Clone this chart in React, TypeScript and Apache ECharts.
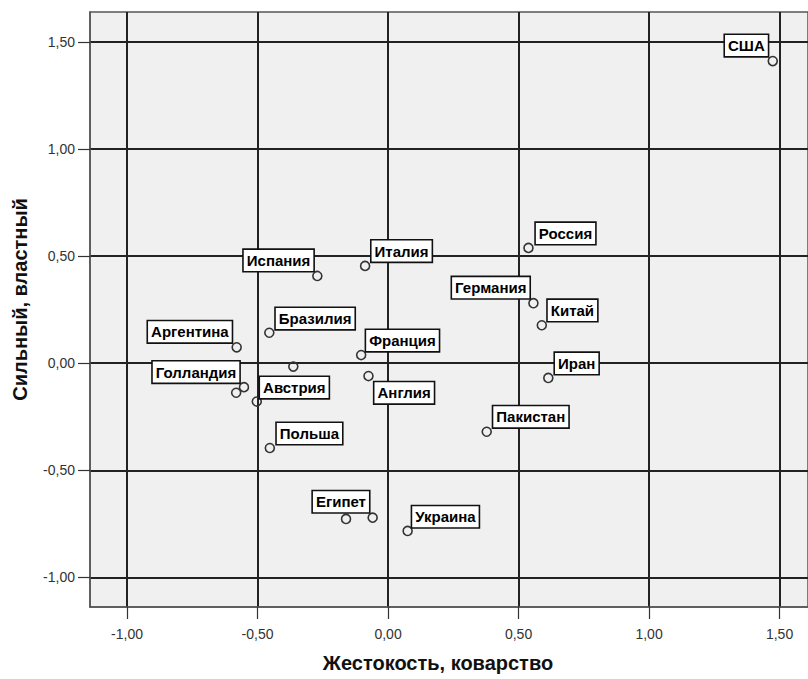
import React, { useEffect, useRef } from "react";
import * as echarts from "echarts";

const countries = [
  "США", "Испания", "Италия", "Бразилия", "Аргентина", "Франция", "", "Англия",
  "Голландия", "", "Австрия", "Польша", "Россия", "Германия", "Китай", "Иран",
  "Пакистан", "Египет", "", "Украина",
];
const cruelty = [
  1.474, -0.271, -0.088, -0.455, -0.58, -0.103, -0.363, -0.075,
  -0.552, -0.582, -0.503, -0.453, 0.538, 0.557, 0.589, 0.614,
  0.378, -0.059, -0.161, 0.075,
];
const power = [
  1.41, 0.407, 0.454, 0.142, 0.074, 0.038, -0.016, -0.06,
  -0.112, -0.138, -0.179, -0.396, 0.538, 0.28, 0.177, -0.069,
  -0.32, -0.721, -0.727, -0.783,
];
const tickValues = [-1, -0.5, 0, 0.5, 1, 1.5];
const xTitle = "Жестокость, коварство";
const yTitle = "Сильный, властный";

// label placement (style): [dx, dy, align, verticalAlign]
const placement: Record<string, [number, number, string, string]> = {
  "США": [-5, -5, "right", "bottom"],
  "Испания": [-4, -5, "right", "bottom"],
  "Италия": [6.5, -4.3, "left", "bottom"],
  "Бразилия": [6.5, -3.7, "left", "bottom"],
  "Аргентина": [-5, -5, "right", "bottom"],
  "Франция": [5, -4, "left", "bottom"],
  "Англия": [6, 6.3, "left", "top"],
  "Голландия": [-4.7, -4.6, "right", "bottom"],
  "Австрия": [3.3, -3.4, "left", "bottom"],
  "Польша": [7, -4, "left", "bottom"],
  "Россия": [7.4, -4, "left", "bottom"],
  "Германия": [-4, -5, "right", "bottom"],
  "Китай": [6, -4.3, "left", "bottom"],
  "Иран": [6.7, -4, "left", "bottom"],
  "Пакистан": [6.6, -4.4, "left", "bottom"],
  "Египет": [-3.7, -5.4, "right", "bottom"],
  "Украина": [4.6, -3.7, "left", "bottom"],
};

const fmt = (v: number) => v.toFixed(2).replace(".", ",");
const FONT = "'Liberation Sans', Arial, sans-serif";

export default function App() {
  const ref = useRef<HTMLDivElement>(null);
  useEffect(() => {
    if (!ref.current) return;
    const chart = echarts.init(ref.current, null, { renderer: "svg" });
    const data = countries.map((name, i) => {
      const p = placement[name];
      return {
        name,
        value: [cruelty[i], power[i]],
        label: p
          ? {
              show: true,
              position: ["50%", "50%"],
              offset: [p[0], p[1]],
              align: p[2],
              verticalAlign: p[3],
            }
          : { show: false },
      };
    });
    const axisCommon = {
      axisLine: { show: true, onZero: false, lineStyle: { color: "#555", width: 1.5 } },
      axisTick: {
        show: true,
        length: 12,
        lineStyle: { color: "#333", width: 1.2 },
        customValues: tickValues,
      },
      splitLine: { show: true, lineStyle: { color: "#222", width: 2 } },
    };
    chart.setOption({
      animation: false,
      backgroundColor: "#ffffff",
      textStyle: { fontFamily: FONT },
      grid: {
        left: 90,
        top: 12,
        right: -1,
        bottom: 72,
        show: true,
        backgroundColor: "#f0f0f0",
        borderColor: "#555",
        borderWidth: 1.5,
      },
      xAxis: {
        type: "value",
        min: -1.142,
        max: 1.609,
        splitNumber: 5,
        ...axisCommon,
        axisLabel: {
          customValues: tickValues,
          formatter: (v: number) => fmt(v),
          margin: 20,
          fontSize: 14,
          color: "#333",
          fontFamily: FONT,
        },
        name: xTitle,
        nameLocation: "middle",
        nameGap: 46,
        nameTextStyle: {
          fontSize: 20,
          fontWeight: "bold",
          color: "#111",
          fontFamily: FONT,
          padding: [0, 22, 0, 0],
        },
      },
      yAxis: {
        type: "value",
        min: -1.138,
        max: 1.639,
        splitNumber: 5,
        ...axisCommon,
        axisLabel: {
          customValues: tickValues,
          formatter: (v: number) => fmt(v),
          margin: 15,
          fontSize: 14,
          color: "#333",
          fontFamily: FONT,
        },
        name: yTitle,
        nameLocation: "middle",
        nameGap: 60,
        nameTextStyle: {
          fontSize: 20,
          fontWeight: "bold",
          color: "#111",
          fontFamily: FONT,
          padding: [0, 0, 0, 20],
        },
      },
      series: [
        {
          type: "scatter",
          data,
          symbol: "circle",
          symbolSize: 9,
          itemStyle: {
            color: "rgba(0,0,0,0)",
            borderColor: "#333",
            borderWidth: 1.6,
            opacity: 1,
          },
          label: {
            formatter: "{b}",
            fontSize: 15,
            fontWeight: "bold",
            color: "#000",
            fontFamily: FONT,
            backgroundColor: "#ffffff",
            borderColor: "#111",
            borderWidth: 1.6,
            padding: [3, 3, 3, 3],
          },
          emphasis: { disabled: true },
        },
      ],
    });
    return () => chart.dispose();
  }, []);
  return (
    <div
      ref={ref}
      style={{ position: "absolute", left: 0, top: 0, width: 808, height: 679 }}
    />
  );
}
